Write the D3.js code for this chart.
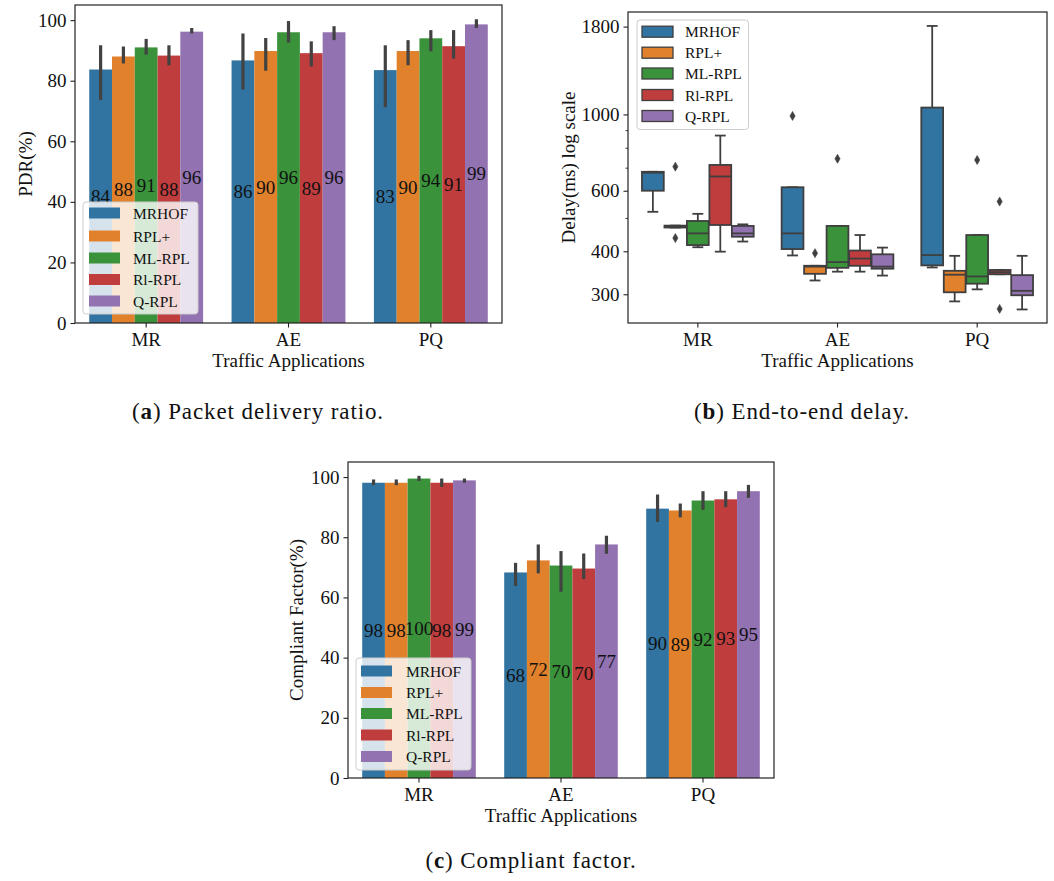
<!DOCTYPE html>
<html>
<head>
<meta charset="utf-8">
<script src="https://cdn.jsdelivr.net/npm/d3@7"></script>
<style>
  html, body { margin: 0; padding: 0; background: #fff; }
  svg { display: block; }
  text { font-family: "Liberation Serif", "Times New Roman", serif; fill: #111; }
</style>
</head>
<body>
<svg id="chart" width="1054" height="881"></svg>
<script>
// ---------------- data ----------------
const categories = ["MR", "AE", "PQ"];
const series = ["MRHOF", "RPL+", "ML-RPL", "Rl-RPL", "Q-RPL"];
const colors = ["#3274a1", "#e1812c", "#3a923a", "#c03d3e", "#9372b2"];

// (a) PDR (%) — [category][series]
const pdrMean = [[83.7, 88.0, 91.0, 88.3, 96.2], [86.7, 89.8, 96.0, 89.1, 96.0], [83.5, 89.8, 94.0, 91.4, 98.6]];
const pdrLow  = [[73.6, 85.7, 88.6, 85.1, 95.6], [77.1, 83.3, 92.6, 84.7, 93.4], [71.2, 85.1, 89.7, 87.3, 97.4]];
const pdrHigh = [[91.7, 91.3, 93.8, 91.7, 97.4], [95.6, 94.1, 99.7, 93.0, 98.0], [91.7, 93.4, 96.7, 96.7, 100.3]];
const pdrLabels = [[84, 88, 91, 88, 96], [86, 90, 96, 89, 96], [83, 90, 94, 91, 99]];
const pctTicks = [0, 20, 40, 60, 80, 100];

// (b) Delay (ms) box statistics — [category][series]
const delayWhiskerLow  = [[521, 469, 411, 399, 427], [389, 329, 349, 349, 340], [359, 286, 310, 343, 271]];
const delayQ1          = [[600, 469, 417, 477, 441], [406, 344, 358, 363, 356], [364, 304, 322, 343, 298]];
const delayMedian      = [[677, 472, 451, 660, 451], [451, 361, 372, 381, 361], [390, 342, 338, 348, 307]];
const delayQ3          = [[681, 475, 490, 713, 474], [614, 363, 474, 402, 392], [1047, 351, 446, 353, 341]];
const delayWhiskerHigh = [[681, 475, 514, 868, 479], [614, 363, 474, 446, 410], [1808, 388, 446, 353, 388]];
const delayOutliers    = [[[], [705, 437], [], [], []], [[990], [395], [743], [], []], [[], [], [737], [558, 272], []]];
const delayTicks = [300, 400, 600, 1000, 1800];
const delayMinorTicks = [500, 700, 800, 900];

// (c) Compliant factor (%) — [category][series]
const cfMean = [[98.1, 98.1, 99.5, 98.1, 98.9], [68.3, 72.3, 70.6, 69.6, 77.6], [89.5, 88.9, 92.2, 92.6, 95.3]];
const cfLow  = [[97.3, 97.3, 98.7, 96.7, 98.1], [63.8, 68.0, 61.9, 66.1, 74.5], [85.1, 86.6, 89.1, 90.0, 93.1]];
const cfHigh = [[99.2, 99.2, 100.4, 99.5, 99.5], [71.5, 77.6, 75.4, 74.6, 80.5], [94.2, 91.2, 95.3, 95.3, 97.4]];
const cfLabels = [[98, 98, 100, 98, 99], [68, 72, 70, 70, 77], [90, 89, 92, 93, 95]];

// ---------------- helpers ----------------
const svg = d3.select("#chart");
svg.append("rect").attr("width", 1054).attr("height", 881).attr("fill", "#fff");

const TICK_FS = 19, LEG_FS = 15.5;

function frame(g, box) {
  g.append("rect").attr("x", box.l).attr("y", box.t)
    .attr("width", box.r - box.l).attr("height", box.b - box.t)
    .attr("fill", "none").attr("stroke", "#222").attr("stroke-width", 1.2);
}

function xAxis(g, box, x, xLabel) {
  const ax = g.append("g").attr("transform", `translate(0,${box.b})`)
    .call(d3.axisBottom(x).tickSize(4.5).tickPadding(5).tickSizeOuter(0));
  ax.select(".domain").remove();
  ax.selectAll("line").attr("stroke", "#222").attr("stroke-width", 1.1);
  ax.selectAll("text").attr("font-size", TICK_FS).attr("font-family", "Liberation Serif").attr("fill", "#111");
  g.append("text").attr("x", (box.l + box.r) / 2).attr("y", box.b + 37)
    .attr("text-anchor", "middle").attr("dominant-baseline", "central")
    .attr("font-size", TICK_FS).text(xLabel);
}

function yLabel(g, x, y, label) {
  g.append("text").attr("transform", `translate(${x},${y}) rotate(-90)`)
    .attr("text-anchor", "middle").attr("dominant-baseline", "central")
    .attr("font-size", TICK_FS).text(label);
}

function legend(g, lx, ly, w, h, rowY, patchX, textX, edged) {
  g.append("rect").attr("x", lx).attr("y", ly).attr("width", w).attr("height", h)
    .attr("rx", 3).attr("fill", "#fff").attr("fill-opacity", 0.8)
    .attr("stroke", "#cccccc").attr("stroke-width", 1);
  series.forEach((s, i) => {
    g.append("rect").attr("x", patchX).attr("y", rowY[i] - 5.5).attr("width", 31).attr("height", 11)
      .attr("fill", colors[i])
      .attr("stroke", edged ? "#3f3f3f" : "none").attr("stroke-width", edged ? 1.3 : 0);
    g.append("text").attr("x", textX).attr("y", rowY[i]).attr("dominant-baseline", "central")
      .attr("font-size", LEG_FS).text(s);
  });
}

function barPanel(box, mean, low, high, labels, yText, yTextX, leg) {
  const g = svg.append("g");
  const x = d3.scaleBand().domain(categories).range([box.l, box.r]).paddingInner(0.2).paddingOuter(0.1);
  const xs = d3.scaleBand().domain(series).range([0, x.bandwidth()]).padding(0);
  const y = d3.scaleLinear().domain([0, 105]).range([box.b, box.t]);

  categories.forEach((c, ci) => {
    series.forEach((s, si) => {
      const bx = x(c) + xs(s);
      g.append("rect").attr("x", bx).attr("y", y(mean[ci][si]))
        .attr("width", xs.bandwidth()).attr("height", y(0) - y(mean[ci][si]))
        .attr("fill", colors[si]);
    });
  });
  // error bars
  categories.forEach((c, ci) => {
    series.forEach((s, si) => {
      const cx = x(c) + xs(s) + xs.bandwidth() / 2;
      g.append("line").attr("x1", cx).attr("x2", cx)
        .attr("y1", y(low[ci][si])).attr("y2", y(high[ci][si]))
        .attr("stroke", "#424242").attr("stroke-width", 3.2);
    });
  });
  // value labels at the bar centre
  categories.forEach((c, ci) => {
    series.forEach((s, si) => {
      const cx = x(c) + xs(s) + xs.bandwidth() / 2;
      g.append("text").attr("x", cx).attr("y", y(mean[ci][si] / 2))
        .attr("text-anchor", "middle").attr("dominant-baseline", "central")
        .attr("font-size", TICK_FS).text(labels[ci][si]);
    });
  });
  legend(g, leg.x, leg.y, leg.w, leg.h, leg.rows, leg.px, leg.tx, false);

  const ay = g.append("g").attr("transform", `translate(${box.l},0)`)
    .call(d3.axisLeft(y).tickValues(pctTicks).tickSize(4.5).tickPadding(4).tickSizeOuter(0));
  ay.select(".domain").remove();
  ay.selectAll("line").attr("stroke", "#222").attr("stroke-width", 1.1);
  ay.selectAll("text").attr("font-size", TICK_FS).attr("font-family", "Liberation Serif").attr("fill", "#111");
  xAxis(g, box, x, "Traffic Applications");
  yLabel(g, yTextX, (box.t + box.b) / 2, yText);
  frame(g, box);
}

// ---------------- panel (a) ----------------
barPanel({ l: 75, r: 502, t: 5, b: 323 }, pdrMean, pdrLow, pdrHigh, pdrLabels, "PDR(%)", 25,
  { x: 83, y: 202, w: 115, h: 112, rows: [213, 236, 258, 279.5, 301], px: 89, tx: 133 });

// ---------------- panel (c) ----------------
barPanel({ l: 348, r: 774, t: 462, b: 778 }, cfMean, cfLow, cfHigh, cfLabels, "Compliant Factor(%)", 296,
  { x: 356, y: 658, w: 115, h: 112, rows: [671, 692.5, 713.5, 735, 756.5], px: 361, tx: 406 });

// ---------------- panel (b) ----------------
(function () {
  const box = { l: 628, r: 1047, t: 12, b: 323 };
  const g = svg.append("g");
  const x = d3.scaleBand().domain(categories).range([box.l, box.r]).paddingInner(0.2).paddingOuter(0.1);
  const xs = d3.scaleBand().domain(series).range([0, x.bandwidth()]).paddingInner(0.03);
  const y = d3.scaleLog().domain([247.5, 1985]).range([box.b, box.t]);
  const edge = "#3f3f3f", lw = 1.8;

  categories.forEach((c, ci) => {
    series.forEach((s, si) => {
      const bx = x(c) + xs(s), bw = xs.bandwidth(), cx = bx + bw / 2;
      // whiskers
      g.append("line").attr("x1", cx).attr("x2", cx)
        .attr("y1", y(delayWhiskerLow[ci][si])).attr("y2", y(delayQ1[ci][si]))
        .attr("stroke", edge).attr("stroke-width", lw);
      g.append("line").attr("x1", cx).attr("x2", cx)
        .attr("y1", y(delayQ3[ci][si])).attr("y2", y(delayWhiskerHigh[ci][si]))
        .attr("stroke", edge).attr("stroke-width", lw);
      [delayWhiskerLow[ci][si], delayWhiskerHigh[ci][si]].forEach(v => {
        g.append("line").attr("x1", cx - bw / 4).attr("x2", cx + bw / 4)
          .attr("y1", y(v)).attr("y2", y(v)).attr("stroke", edge).attr("stroke-width", lw);
      });
      // box
      g.append("rect").attr("x", bx).attr("y", y(delayQ3[ci][si]))
        .attr("width", bw).attr("height", Math.max(1, y(delayQ1[ci][si]) - y(delayQ3[ci][si])))
        .attr("fill", colors[si]).attr("stroke", edge).attr("stroke-width", lw);
      // median
      g.append("line").attr("x1", bx).attr("x2", bx + bw)
        .attr("y1", y(delayMedian[ci][si])).attr("y2", y(delayMedian[ci][si]))
        .attr("stroke", edge).attr("stroke-width", lw);
      // outliers (thin diamonds)
      delayOutliers[ci][si].forEach(v => {
        const oy = y(v);
        g.append("path")
          .attr("d", `M${cx},${oy - 4.5}L${cx + 2.6},${oy}L${cx},${oy + 4.5}L${cx - 2.6},${oy}Z`)
          .attr("fill", edge).attr("stroke", edge).attr("stroke-width", 0.6);
      });
    });
  });

  legend(g, 637, 20, 111.5, 109.5, [31.7, 52.7, 73.5, 95, 116], 642, 685, true);

  const ay = g.append("g").attr("transform", `translate(${box.l},0)`)
    .call(d3.axisLeft(y).tickValues(delayTicks).tickFormat(d3.format("d")).tickSize(4.5).tickPadding(4).tickSizeOuter(0));
  ay.select(".domain").remove();
  ay.selectAll("line").attr("stroke", "#222").attr("stroke-width", 1.1);
  ay.selectAll("text").attr("font-size", TICK_FS).attr("font-family", "Liberation Serif").attr("fill", "#111");
  const am = g.append("g").attr("transform", `translate(${box.l},0)`)
    .call(d3.axisLeft(y).tickValues(delayMinorTicks).tickFormat("").tickSize(2.5).tickSizeOuter(0));
  am.select(".domain").remove();
  am.selectAll("line").attr("stroke", "#222").attr("stroke-width", 0.9);

  xAxis(g, box, x, "Traffic Applications");
  yLabel(g, 568, (box.t + box.b) / 2, "Delay(ms) log scale");
  frame(g, box);
})();

// ---------------- captions ----------------
function caption(cx, cy, letter, rest) {
  const t = svg.append("text").attr("x", cx).attr("y", cy).attr("text-anchor", "middle")
    .attr("dominant-baseline", "central").attr("font-size", 23).attr("letter-spacing", 0.9);
  t.append("tspan").text("(");
  t.append("tspan").attr("font-weight", "bold").text(letter);
  t.append("tspan").text(") " + rest);
}
caption(258, 411, "a", "Packet delivery ratio.");
caption(802, 411, "b", "End-to-end delay.");
caption(531, 860, "c", "Compliant factor.");
</script>
</body>
</html>
